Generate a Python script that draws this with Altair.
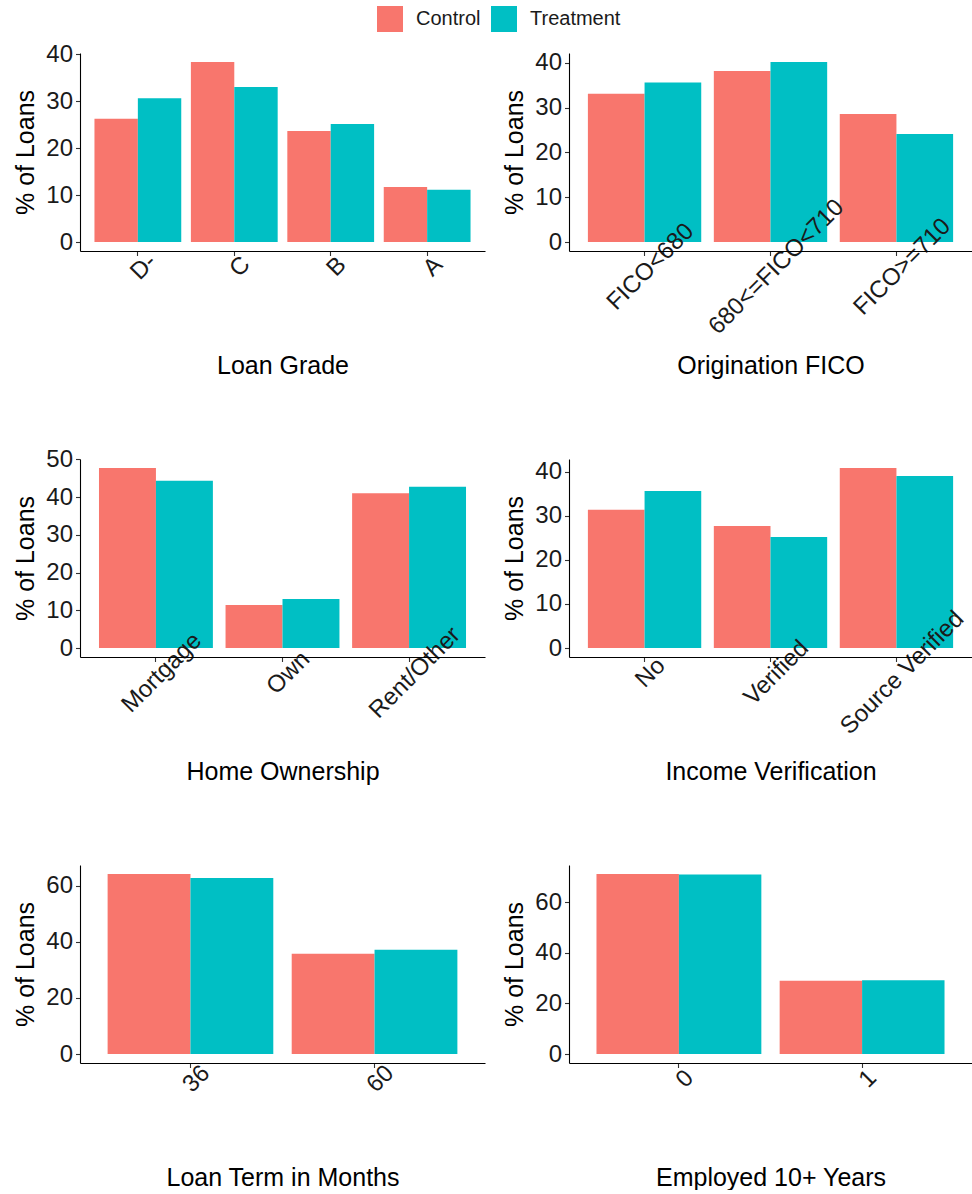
import altair as alt
import pandas as pd

# ---- data: share of loans (%) by borrower attribute, control vs. treatment ----
GROUPS = ["Control", "Treatment"]
COLORS = ["#F8766D", "#00BFC4"]

grade_cats = ["D-", "C", "B", "A"]
grade_control = [26.2, 38.3, 23.6, 11.7]
grade_treatment = [30.6, 33.0, 25.1, 11.1]
grade_ticks = [0, 10, 20, 30, 40]

fico_cats = ["FICO<680", "680<=FICO<710", "FICO>=710"]
fico_control = [33.1, 38.2, 28.6]
fico_treatment = [35.6, 40.2, 24.1]
fico_ticks = [0, 10, 20, 30, 40]

home_cats = ["Mortgage", "Own", "Rent/Other"]
home_control = [47.7, 11.4, 41.0]
home_treatment = [44.3, 13.0, 42.7]
home_ticks = [0, 10, 20, 30, 40, 50]

income_cats = ["No", "Verified", "Source Verified"]
income_control = [31.4, 27.7, 40.9]
income_treatment = [35.7, 25.2, 39.1]
income_ticks = [0, 10, 20, 30, 40]

term_cats = ["36", "60"]
term_control = [64.2, 35.8]
term_treatment = [62.8, 37.2]
term_ticks = [0, 20, 40, 60]

emp_cats = ["0", "1"]
emp_control = [71.1, 28.9]
emp_treatment = [70.9, 29.1]
emp_ticks = [0, 20, 40, 60]

FONT = "Liberation Sans"
PANEL_H = 198


def panel(cats, control, treatment, ticks, xtitle, width, show_legend=False):
    df = pd.DataFrame({
        "category": list(cats) * 2,
        "group": [GROUPS[0]] * len(cats) + [GROUPS[1]] * len(cats),
        "pct": list(control) + list(treatment),
    })
    top = float(df["pct"].max())
    # 5% expansion below zero and above the tallest bar
    ydomain = [-0.05 * top, 1.05 * top]
    if show_legend:
        legend = alt.Legend(
            title=None, orient="none", direction="horizontal",
            legendX=297, legendY=-47, symbolType="square", symbolSize=676,
            symbolStrokeWidth=0, symbolOpacity=1, labelFontSize=20, labelFont=FONT,
            labelColor="#1a1a1a", labelOffset=13, columnPadding=10, padding=0,
        )
    else:
        legend = None
    return alt.Chart(df).mark_bar(opacity=1).encode(
        x=alt.X("category:N", sort=list(cats), title=xtitle,
                scale=alt.Scale(paddingInner=0.1, paddingOuter=0.15),
                axis=alt.Axis(zindex=1)),
        xOffset=alt.XOffset("group:N", sort=GROUPS,
                            scale=alt.Scale(paddingInner=0, paddingOuter=0)),
        y=alt.Y("pct:Q", title="% of Loans",
                scale=alt.Scale(domain=ydomain, nice=False, zero=False),
                axis=alt.Axis(values=ticks, zindex=1)),
        y2=alt.datum(0),
        color=alt.Color("group:N", scale=alt.Scale(domain=GROUPS, range=COLORS),
                        legend=legend),
    ).properties(width=width, height=PANEL_H)


LEFT_W = 405
RIGHT_W = 403

p1 = panel(grade_cats, grade_control, grade_treatment, grade_ticks, "Loan Grade", LEFT_W, True)
p2 = panel(fico_cats, fico_control, fico_treatment, fico_ticks, "Origination FICO", RIGHT_W)
p3 = panel(home_cats, home_control, home_treatment, home_ticks, "Home Ownership", LEFT_W)
p4 = panel(income_cats, income_control, income_treatment, income_ticks, "Income Verification", RIGHT_W)
p5 = panel(term_cats, term_control, term_treatment, term_ticks, "Loan Term in Months", LEFT_W)
p6 = panel(emp_cats, emp_control, emp_treatment, emp_ticks, "Employed 10+ Years", RIGHT_W)

RES = dict(x="independent", y="independent", xOffset="independent", color="independent")

chart = alt.concat(
    p1, p2, p3, p4, p5, p6, columns=2,
    spacing={"row": 208, "column": 84}, bounds="flush",
).resolve_scale(**RES).properties(
    padding={"left": 13, "top": 6, "right": 0, "bottom": 0},
    background="white",
).configure_view(
    stroke=None
).configure_axis(
    grid=False,
    labelFont=FONT, titleFont=FONT,
    labelFontSize=24, titleFontSize=25,
    labelColor="#1a1a1a", titleColor="black",
    titleFontWeight="normal",
    domainColor="black", domainWidth=1.1,
    tickColor="#333333", tickWidth=1.1, tickSize=4.5,
    labelPadding=3,
).configure_axisX(
    labelAngle=315, labelAlign="center", labelBaseline="middle",
    labelPadding=11, labelOffset=6, labelOverlap=False, labelLimit=0,
    labelBound=False, labelFlush=False,
    titleY=122, titleBaseline="alphabetic",
).configure_axisY(
    titleX=-47, titleBaseline="alphabetic",
)

chart.save("out.html", embed_options={"renderer": "svg", "actions": False})
